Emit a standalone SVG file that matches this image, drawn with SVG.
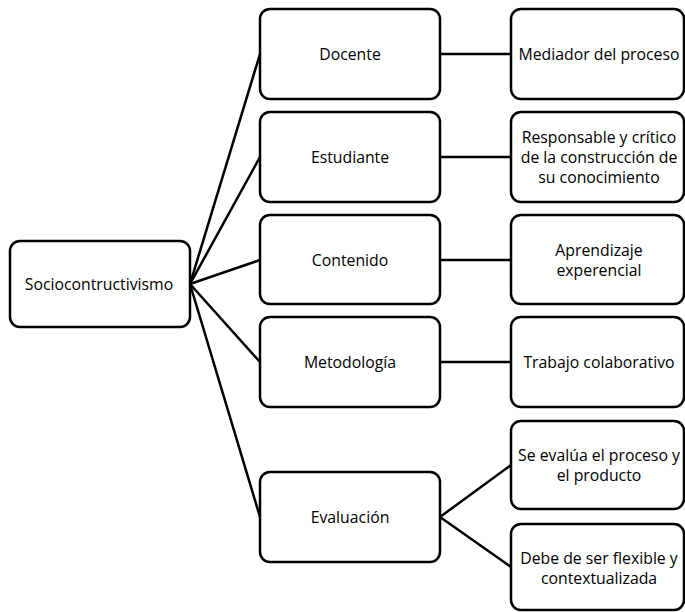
<svg xmlns="http://www.w3.org/2000/svg" width="685" height="612" viewBox="0 0 685 612">
<style>
.box{fill:#fff;stroke:#000;stroke-width:2.5}
.ln{stroke:#000;stroke-width:2.5;fill:none}
text{font-family:"Open Sans","Liberation Sans",sans-serif;font-size:15.8px;fill:#000;text-anchor:middle;dominant-baseline:central}
</style>
<rect width="685" height="612" fill="#fff"/>
<g id="connectors">
<line class="ln" x1="190" y1="284" x2="260" y2="54"/>
<line class="ln" x1="190" y1="284" x2="260" y2="157"/>
<line class="ln" x1="190" y1="284" x2="260" y2="260"/>
<line class="ln" x1="190" y1="284" x2="260" y2="362"/>
<line class="ln" x1="190" y1="284" x2="260" y2="517"/>
<line class="ln" x1="440" y1="54" x2="511" y2="54"/>
<line class="ln" x1="440" y1="157" x2="511" y2="157"/>
<line class="ln" x1="440" y1="260" x2="511" y2="260"/>
<line class="ln" x1="440" y1="362" x2="511" y2="362"/>
<line class="ln" x1="440" y1="517" x2="511" y2="465"/>
<line class="ln" x1="440" y1="517" x2="511" y2="567"/>
</g>
<g id="root"><rect class="box" x="10" y="241" width="180" height="86" rx="10"/><text x="99" y="284">Sociocontructivismo</text></g>
<g id="docente"><rect class="box" x="260" y="9" width="180" height="90" rx="10"/><text x="350" y="54">Docente</text></g>
<g id="estudiante"><rect class="box" x="260" y="112" width="180" height="90" rx="10"/><text x="350" y="157">Estudiante</text></g>
<g id="contenido"><rect class="box" x="260" y="215" width="180" height="89" rx="10"/><text x="350" y="260">Contenido</text></g>
<g id="metodologia"><rect class="box" x="260" y="317" width="180" height="90" rx="10"/><text x="350" y="362">Metodología</text></g>
<g id="evaluacion"><rect class="box" x="260" y="472" width="180" height="90" rx="10"/><text x="350" y="517">Evaluación</text></g>
<g id="mediador"><rect class="box" x="511" y="9" width="173" height="90" rx="10"/><text x="599" y="54">Mediador del proceso</text></g>
<g id="responsable"><rect class="box" x="511" y="112" width="173" height="90" rx="10"/><text x="599" y="137">Responsable y crítico</text><text x="599" y="157">de la construcción de</text><text x="599" y="177">su conocimiento</text></g>
<g id="aprendizaje"><rect class="box" x="511" y="215" width="173" height="89" rx="10"/><text x="599" y="250">Aprendizaje</text><text x="599" y="270">experencial</text></g>
<g id="trabajo"><rect class="box" x="511" y="317" width="173" height="90" rx="10"/><text x="599" y="362">Trabajo colaborativo</text></g>
<g id="seevalua"><rect class="box" x="511" y="421" width="173" height="88" rx="10"/><text x="599" y="455">Se evalúa el proceso y</text><text x="599" y="475">el producto</text></g>
<g id="debe"><rect class="box" x="511" y="524" width="173" height="86" rx="10"/><text x="599" y="558">Debe de ser flexible y</text><text x="599" y="578">contextualizada</text></g>
</svg>
